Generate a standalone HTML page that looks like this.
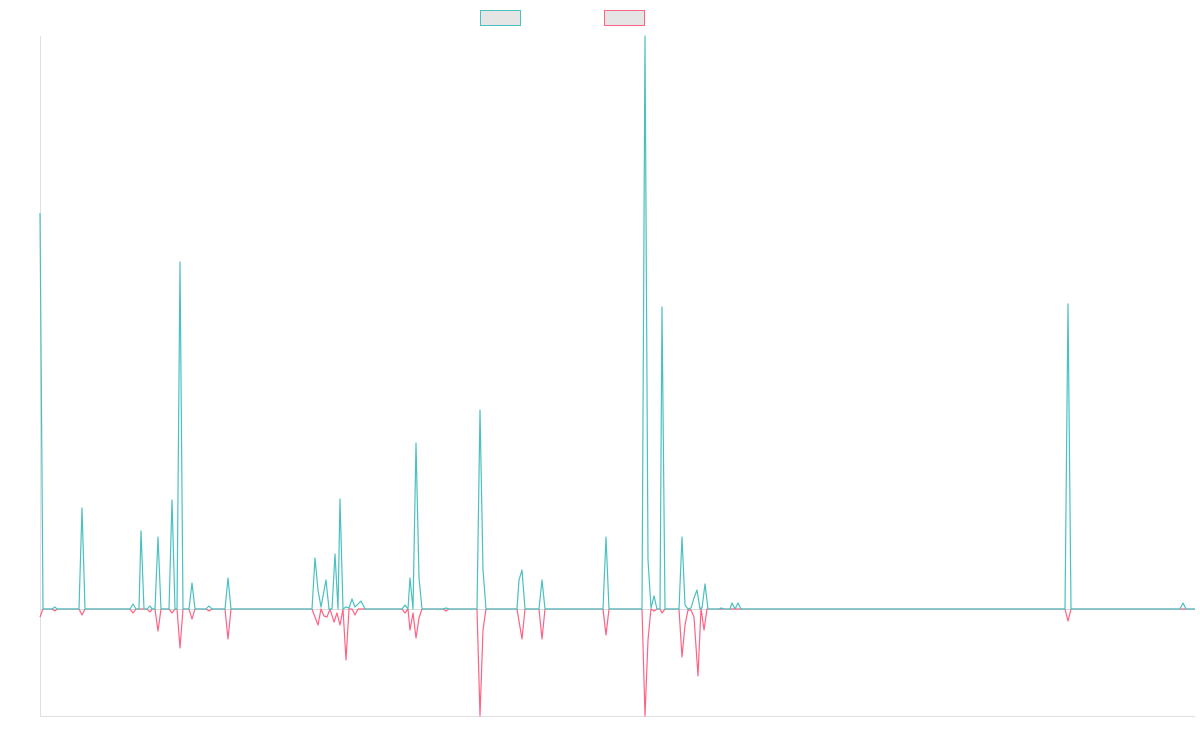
<!DOCTYPE html>
<html><head><meta charset="utf-8"><style>
html,body{margin:0;padding:0;background:#fff;}
svg{display:block;}
</style></head><body>
<svg width="1200" height="750" viewBox="0 0 1200 750" xmlns="http://www.w3.org/2000/svg">
<rect x="480.5" y="10.5" width="40" height="15" fill="#e5e5e5" stroke="#4bc0c0" stroke-width="1"/>
<rect x="604.5" y="10.5" width="40" height="15" fill="#e5e5e5" stroke="#ff6384" stroke-width="1"/>
<line x1="40.5" y1="36" x2="40.5" y2="716" stroke="#e0e0e0" stroke-width="1"/>
<line x1="40" y1="716.5" x2="1195" y2="716.5" stroke="#e0e0e0" stroke-width="1"/>
<line x1="40" y1="609.5" x2="1195" y2="609.5" stroke="#d8d8d8" stroke-width="1"/>
<polyline fill="none" stroke="#ff6384" stroke-width="1.2" stroke-linejoin="round" points="
40,617 43,609 52,609 55,611 57,609 79,609 82,615 85,609 130,609 133,613 136,609 147,609 150,612 152,609 155,609 158,631 161,609 169,609 172,613 175,609 177,609 180,648 183,609 189,609 192,619 195,609 206,609 209,611 212,609 225,609 228,639 231,609 312,609 315,617 318,625 321,609 324,616 327,617 330,609 334,622 337,613 340,625 343,609 346,660 349,609 352,609 355,615 358,609 402,609 405,613 408,609 410,630 413,613 416,638 419,618 422,609 443,609 446,611 449,609 477,609 480,716 483,630 486,609 517,609 522,639 525,609 539,609 542,639 545,609 603,609 606,635 609,609 642,609 645,716 648,640 651,609 654,611 657,609 660,609 662,613 665,609 679,609 682,657 685,625 688,610 691,610 694,617 698,676 701,608 704,630 707,609 1065,609 1068,621 1071,609 1195,609"/>
<polyline fill="none" stroke="#4bc0c0" stroke-width="1.2" stroke-linejoin="round" points="
40,213 43,609 52,609 55,607 57,609 79,609 82,508 85,609 130,609 133,604 136,609 139,609 141,531 144,609 147,609 150,606 152,609 155,609 158,537 161,609 169,609 172,500 175,609 177,609 180,262 183,609 189,609 192,583 195,609 206,609 209,606 212,609 225,609 228,578 231,609 312,609 315,558 318,590 321,607 326,580 329,609 332,609 335,554 338,609 340,499 343,609 346,607 349,608 352,599 355,607 361,601 365,609 402,609 405,605 408,609 410,578 413,609 416,443 419,578 422,609 443,609 446,608 449,609 477,609 480,410 483,570 486,609 517,609 519,580 522,570 525,609 539,609 542,580 545,609 603,609 606,537 609,609 642,609 645,36 648,560 651,608 654,596 657,609 660,609 662,307 665,609 679,609 682,537 685,605 688,609 691,608 694,598 697,590 700,609 702,608 705,584 708,609 719,609 721,608 724,609 730,609 732,603 735,609 738,603 741,609 1065,609 1068,304 1071,609 1180,609 1183,603 1186,609 1195,609"/>
</svg>
</body></html>
